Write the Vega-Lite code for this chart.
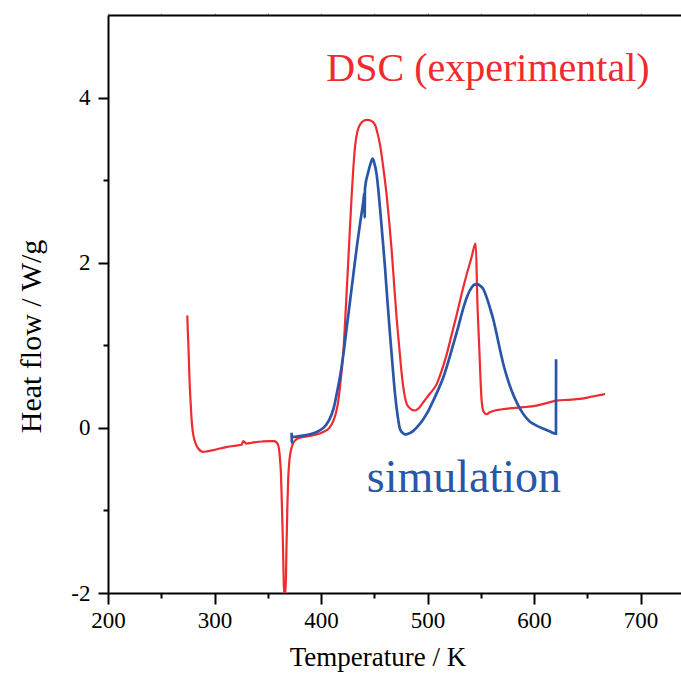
{
  "$schema": "https://vega.github.io/schema/vega-lite/v6.json",
  "width": 573,
  "height": 578,
  "autosize": {"type": "none"},
  "padding": {"left": 108, "top": 15, "right": 0, "bottom": 80},
  "background": "white",
  "config": {"view": {"stroke": null}, "font": "Liberation Serif, Times New Roman, serif"},
  "datasets": {
    "dsc": [
      {"i":0,"T":274.5,"H":1.36},{"i":1,"T":274.8,"H":1.22},{"i":2,"T":275.5,"H":1.0},{"i":3,"T":276.5,"H":0.6},
      {"i":4,"T":277.6,"H":0.3},{"i":5,"T":278.8,"H":0.05},{"i":6,"T":280.3,"H":-0.1},{"i":7,"T":282.3,"H":-0.19},
      {"i":8,"T":284.8,"H":-0.25},{"i":9,"T":287,"H":-0.28},{"i":10,"T":289.5,"H":-0.29},{"i":11,"T":293,"H":-0.285},
      {"i":12,"T":298.9,"H":-0.27},{"i":13,"T":305,"H":-0.25},{"i":14,"T":312,"H":-0.23},{"i":15,"T":320,"H":-0.215},
      {"i":16,"T":325.5,"H":-0.205},{"i":17,"T":327,"H":-0.16},{"i":18,"T":328,"H":-0.17},{"i":19,"T":329.6,"H":-0.19},
      {"i":20,"T":335,"H":-0.18},{"i":21,"T":345,"H":-0.165},{"i":22,"T":352,"H":-0.16},{"i":23,"T":356,"H":-0.16},
      {"i":24,"T":357.7,"H":-0.17},{"i":25,"T":359.5,"H":-0.2},{"i":26,"T":360.6,"H":-0.26},{"i":27,"T":361.5,"H":-0.38},
      {"i":28,"T":362.4,"H":-0.56},{"i":29,"T":363.2,"H":-0.9},{"i":30,"T":364,"H":-1.28},{"i":31,"T":364.8,"H":-1.75},
      {"i":32,"T":365.3,"H":-2.0},{"i":33,"T":366.8,"H":-2.0},{"i":34,"T":367.5,"H":-1.5},{"i":35,"T":368.4,"H":-0.96},
      {"i":36,"T":369.2,"H":-0.62},{"i":37,"T":370.3,"H":-0.4},{"i":38,"T":372,"H":-0.26},{"i":39,"T":374,"H":-0.18},
      {"i":40,"T":377,"H":-0.14},{"i":41,"T":380.3,"H":-0.12},{"i":42,"T":388,"H":-0.1},{"i":43,"T":396,"H":-0.08},
      {"i":44,"T":402,"H":-0.05},{"i":45,"T":407.8,"H":0.0},{"i":46,"T":411.6,"H":0.085},{"i":47,"T":414,"H":0.18},
      {"i":48,"T":416.3,"H":0.33},{"i":49,"T":418.5,"H":0.58},{"i":50,"T":421,"H":0.93},{"i":51,"T":423.3,"H":1.45},
      {"i":52,"T":425.6,"H":2.02},{"i":53,"T":428.8,"H":2.82},{"i":54,"T":431.9,"H":3.4},{"i":55,"T":434,"H":3.58},
      {"i":56,"T":436.6,"H":3.67},{"i":57,"T":440,"H":3.72},{"i":58,"T":443.5,"H":3.73},{"i":59,"T":447,"H":3.72},
      {"i":60,"T":450.7,"H":3.67},{"i":61,"T":453,"H":3.57},{"i":62,"T":455.4,"H":3.43},{"i":63,"T":458.5,"H":3.15},
      {"i":64,"T":461.6,"H":2.82},{"i":65,"T":464,"H":2.5},{"i":66,"T":466.4,"H":2.14},{"i":67,"T":468.7,"H":1.73},
      {"i":68,"T":471,"H":1.33},{"i":69,"T":473.5,"H":0.97},{"i":70,"T":475.8,"H":0.65},{"i":71,"T":478,"H":0.43},
      {"i":72,"T":480.5,"H":0.29},{"i":73,"T":484,"H":0.23},{"i":74,"T":488.3,"H":0.21},{"i":75,"T":492,"H":0.24},
      {"i":76,"T":496,"H":0.31},{"i":77,"T":502,"H":0.41},{"i":78,"T":508.6,"H":0.53},{"i":79,"T":513,"H":0.68},
      {"i":80,"T":518,"H":0.89},{"i":81,"T":522.5,"H":1.12},{"i":82,"T":527.4,"H":1.37},{"i":83,"T":532,"H":1.62},
      {"i":84,"T":536.8,"H":1.86},{"i":85,"T":541,"H":2.05},{"i":86,"T":544.6,"H":2.22},{"i":87,"T":545.3,"H":2.23},
      {"i":88,"T":546.8,"H":1.53},{"i":89,"T":548.5,"H":1.0},{"i":90,"T":550.8,"H":0.33},{"i":91,"T":552,"H":0.22},
      {"i":92,"T":553,"H":0.19},{"i":93,"T":555.5,"H":0.165},{"i":94,"T":558,"H":0.185},{"i":95,"T":561.7,"H":0.205},
      {"i":96,"T":570,"H":0.225},{"i":97,"T":580.5,"H":0.24},{"i":98,"T":590,"H":0.25},{"i":99,"T":602.5,"H":0.27},
      {"i":100,"T":612,"H":0.3},{"i":101,"T":621.3,"H":0.33},{"i":102,"T":632,"H":0.34},{"i":103,"T":643.2,"H":0.35},
      {"i":104,"T":655,"H":0.38},{"i":105,"T":666.7,"H":0.41}
    ],
    "sim": [
      {"i":0,"T":372.4,"H":-0.06},{"i":1,"T":372.45,"H":-0.18},{"i":2,"T":372.6,"H":-0.11},{"i":3,"T":374,"H":-0.11},
      {"i":4,"T":380,"H":-0.1},{"i":5,"T":389.7,"H":-0.077},{"i":6,"T":396,"H":-0.05},{"i":7,"T":402.2,"H":0.0},
      {"i":8,"T":405,"H":0.04},{"i":9,"T":407.8,"H":0.1},{"i":10,"T":410,"H":0.165},{"i":11,"T":412.5,"H":0.27},
      {"i":12,"T":414.7,"H":0.41},{"i":13,"T":418,"H":0.63},{"i":14,"T":421,"H":0.89},{"i":15,"T":424,"H":1.2},
      {"i":16,"T":427.2,"H":1.53},{"i":17,"T":430.4,"H":1.86},{"i":18,"T":433.5,"H":2.18},{"i":19,"T":436.6,"H":2.47},
      {"i":20,"T":439.7,"H":2.74},{"i":21,"T":440.8,"H":2.85},{"i":22,"T":441.0,"H":2.55},{"i":23,"T":441.3,"H":2.9},
      {"i":24,"T":444.4,"H":3.1},{"i":25,"T":446.5,"H":3.2},{"i":26,"T":448.5,"H":3.26},{"i":27,"T":450.2,"H":3.2},
      {"i":28,"T":452.2,"H":3.07},{"i":29,"T":454,"H":2.86},{"i":30,"T":455.4,"H":2.66},{"i":31,"T":457.8,"H":2.3},
      {"i":32,"T":460.1,"H":1.94},{"i":33,"T":462.4,"H":1.53},{"i":34,"T":464.8,"H":1.13},{"i":35,"T":467.2,"H":0.75},
      {"i":36,"T":469.5,"H":0.41},{"i":37,"T":472,"H":0.14},{"i":38,"T":474.2,"H":-0.016},{"i":39,"T":477,"H":-0.065},
      {"i":40,"T":479.8,"H":-0.08},{"i":41,"T":483,"H":-0.065},{"i":42,"T":486.7,"H":-0.036},{"i":43,"T":491,"H":0.02},
      {"i":44,"T":496,"H":0.105},{"i":45,"T":500.5,"H":0.2},{"i":46,"T":505.4,"H":0.33},{"i":47,"T":510,"H":0.46},
      {"i":48,"T":514.8,"H":0.61},{"i":49,"T":519.5,"H":0.8},{"i":50,"T":524.2,"H":1.01},{"i":51,"T":529,"H":1.23},
      {"i":52,"T":533.6,"H":1.45},{"i":53,"T":537.5,"H":1.6},{"i":54,"T":541.4,"H":1.7},{"i":55,"T":544,"H":1.735},
      {"i":56,"T":546.8,"H":1.74},{"i":57,"T":549.5,"H":1.72},{"i":58,"T":552.4,"H":1.68},{"i":59,"T":555.5,"H":1.58},
      {"i":60,"T":558.7,"H":1.45},{"i":61,"T":562,"H":1.3},{"i":62,"T":565,"H":1.13},{"i":63,"T":568,"H":0.95},
      {"i":64,"T":571.2,"H":0.77},{"i":65,"T":575,"H":0.6},{"i":66,"T":579,"H":0.45},{"i":67,"T":583,"H":0.33},
      {"i":68,"T":586.9,"H":0.23},{"i":69,"T":591.5,"H":0.14},{"i":70,"T":596.2,"H":0.075},{"i":71,"T":602,"H":0.03},
      {"i":72,"T":608.7,"H":-0.01},{"i":73,"T":614.5,"H":-0.042},{"i":74,"T":620.6,"H":-0.07},{"i":75,"T":620.7,"H":0.83}
    ],
    "lab1": [{"T":405,"H":4.2,"label":"DSC (experimental)"}],
    "lab2": [{"T":443,"H":-0.78,"label":"simulation"}]
  },
  "layer": [
    {
      "data": {"name": "dsc"},
      "mark": {"type": "line", "color": "#EE2B2E", "strokeWidth": 2.2, "clip": true, "interpolate": "monotone"},
      "encoding": {
        "x": {
          "field": "T", "type": "quantitative",
          "scale": {"domain": [200, 738], "nice": false, "zero": false},
          "axis": {
            "orient": "bottom",
            "values": [200, 250, 300, 350, 400, 450, 500, 550, 600, 650, 700],
            "labelExpr": "datum.value % 100 === 0 ? '' + datum.value : ''",
            "tickSize": {"condition": {"test": "datum.value % 100 === 0", "value": 11}, "value": 5},
            "tickWidth": 2, "tickColor": "black",
            "domainColor": "black", "domainWidth": 2,
            "labelFont": "Liberation Serif, Times New Roman, serif", "labelFontSize": 23, "labelColor": "black",
            "labelPadding": 5, "labelFlush": false, "labelOverlap": false,
            "grid": false,
            "title": "Temperature / K",
            "titleFont": "Liberation Serif, Times New Roman, serif", "titleFontSize": 27, "titleFontWeight": "normal", "titleColor": "black",
            "titleX": 269.5, "titleY": 72, "titleBaseline": "alphabetic", "titleAlign": "center"
          }
        },
        "y": {
          "field": "H", "type": "quantitative",
          "scale": {"domain": [-2, 5], "nice": false, "zero": false},
          "axis": {
            "orient": "left",
            "values": [-2, -1, 0, 1, 2, 3, 4],
            "labelExpr": "datum.value % 2 === 0 ? '' + datum.value : ''",
            "tickSize": {"condition": {"test": "datum.value % 2 === 0", "value": 10}, "value": 5},
            "tickWidth": 2, "tickColor": "black",
            "domainColor": "black", "domainWidth": 2,
            "labelFont": "Liberation Serif, Times New Roman, serif", "labelFontSize": 23, "labelColor": "black",
            "labelPadding": 8, "labelFlush": false, "labelOverlap": false,
            "grid": false,
            "title": "Heat flow / W/g",
            "titleFont": "Liberation Serif, Times New Roman, serif", "titleFontSize": 30, "titleFontWeight": "normal", "titleColor": "black",
            "titleAngle": 270, "titleX": -68, "titleY": 321, "titleBaseline": "alphabetic", "titleAlign": "center"
          }
        },
        "order": {"field": "i", "type": "quantitative"}
      }
    },
    {
      "data": {"name": "sim"},
      "mark": {"type": "line", "color": "#2A56A8", "strokeWidth": 2.7, "clip": true, "interpolate": "monotone"},
      "encoding": {
        "x": {
          "field": "T", "type": "quantitative",
          "axis": {
            "orient": "top",
            "values": [200, 250, 300, 350, 400, 450, 500, 550, 600, 650, 700],
            "labels": false, "ticks": true, "tickSize": 2, "tickColor": "#999999", "tickWidth": 1,
            "domainColor": "black", "domainWidth": 2, "grid": false, "title": null
          }
        },
        "y": {"field": "H", "type": "quantitative", "axis": null},
        "order": {"field": "i", "type": "quantitative"}
      }
    },
    {
      "data": {"name": "lab1"},
      "mark": {"type": "text", "align": "left", "baseline": "alphabetic", "font": "Liberation Serif, Times New Roman, serif", "fontSize": 40, "color": "#EE2B2E"},
      "encoding": {
        "x": {"field": "T", "type": "quantitative", "axis": null},
        "y": {"field": "H", "type": "quantitative", "axis": null},
        "text": {"field": "label"}
      }
    },
    {
      "data": {"name": "lab2"},
      "mark": {"type": "text", "align": "left", "baseline": "alphabetic", "font": "Liberation Serif, Times New Roman, serif", "fontSize": 46, "color": "#2A56A8"},
      "encoding": {
        "x": {"field": "T", "type": "quantitative", "axis": null},
        "y": {"field": "H", "type": "quantitative", "axis": null},
        "text": {"field": "label"}
      }
    }
  ],
  "resolve": {"axis": {"x": "independent", "y": "independent"}}
}
